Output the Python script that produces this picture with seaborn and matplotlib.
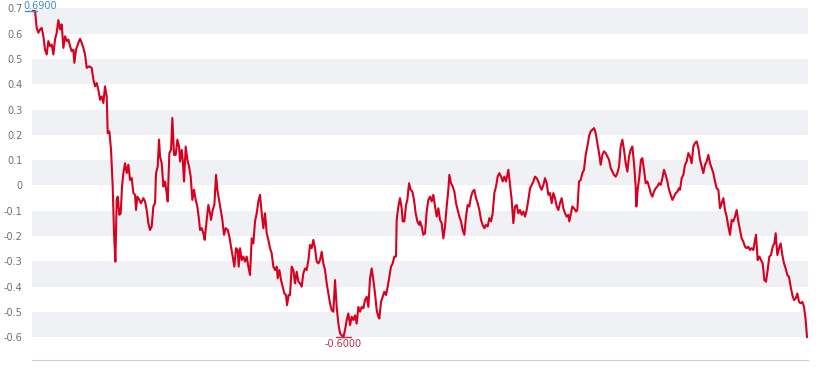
import numpy as np
import matplotlib
matplotlib.use("Agg")
import matplotlib.pyplot as plt
import seaborn as sns

# day index and cumulative value
days = [
    0, 9, 14, 19, 24, 29, 34, 39, 44, 49, 54, 59, 64, 69, 74, 79, 84, 89, 94, 99,
    104, 109, 114, 119, 124, 127, 132, 139, 144, 149, 154, 159, 164, 172, 179, 184, 189, 194, 199, 204,
    209, 214, 219, 224, 227, 232, 237, 242, 246, 250, 254, 257, 262, 266, 270, 274, 279, 284, 289, 294,
    299, 304, 309, 312, 316, 322, 327, 334, 339, 344, 349, 354, 359, 364, 369, 372, 377, 381,
    384, 389, 394, 399, 404, 407, 412, 417, 421, 426, 431, 436, 441, 444, 449, 452, 456, 461, 466, 471,
    476, 481, 486, 491, 496, 501, 504, 509, 514, 518, 524, 529, 534, 537, 542, 547, 552, 556, 561, 566,
    571, 576, 581, 587, 592, 597, 602, 607, 612, 617, 620, 624, 629, 634, 639, 644, 649, 654, 659, 664,
    669, 674, 679, 684, 689, 694, 699, 704, 709, 714, 719, 724, 729, 734, 737, 742, 747, 752, 757, 762,
    765, 770,
    774, 779, 784, 789, 794, 799, 804, 809, 814, 819, 824, 829, 834, 839, 844, 849, 854, 859, 864, 869,
    874, 879, 884, 889, 894, 899, 904, 909, 914, 919, 924, 929, 934, 939, 944, 949, 954, 959, 964, 969,
    974, 979, 984, 989, 994, 999, 1004, 1009, 1014, 1019, 1024, 1029, 1034, 1039, 1042, 1047, 1052, 1057, 1062, 1067,
    1072, 1077, 1082, 1087, 1092, 1094, 1099, 1104, 1109, 1112, 1117, 1122, 1126, 1131, 1136, 1141, 1146, 1151, 1156, 1162,
    1164, 1169, 1174, 1179, 1184, 1189, 1194, 1199, 1204, 1209, 1214, 1219, 1224, 1229, 1234, 1239, 1244, 1249, 1252, 1257,
    1262, 1267, 1272, 1277, 1282, 1287, 1292, 1297, 1302, 1307, 1312, 1317, 1322, 1327, 1332, 1337, 1342, 1347, 1352, 1357,
    1362, 1367, 1372, 1377, 1382, 1387, 1392, 1397, 1402, 1407, 1412, 1417, 1422, 1429, 1434, 1439, 1444, 1449, 1454, 1459,
    1464, 1469, 1474, 1479, 1484, 1489, 1494, 1499, 1504, 1509, 1514, 1519, 1524, 1529, 1534, 1539, 1544, 1549,
    1554, 1559, 1564, 1569, 1574, 1579, 1584, 1589, 1594, 1599, 1604, 1609, 1612, 1617, 1621, 1626, 1632, 1636, 1641, 1646,
    1651, 1656, 1661, 1666, 1671, 1676, 1681, 1686, 1691, 1696, 1701, 1706, 1711, 1716, 1721, 1726, 1731, 1736, 1741, 1746,
    1751, 1756, 1761, 1766, 1771, 1776, 1781, 1786, 1791, 1796, 1801, 1806, 1811, 1813, 1817, 1822, 1827, 1831, 1836, 1841,
    1846, 1851, 1856, 1861, 1866, 1871, 1876, 1881, 1886, 1891, 1896, 1901, 1906, 1911, 1916, 1921, 1926, 1931, 1936, 1941,
    1944, 1949, 1954, 1959, 1964, 1969, 1974, 1979, 1984, 1989, 1994, 1999, 2004, 2009, 2014, 2019, 2024, 2029, 2034, 2039,
    2044, 2049, 2054, 2059, 2064, 2069, 2074, 2079, 2084, 2089, 2094, 2099, 2104, 2109, 2114, 2119, 2124, 2129, 2134, 2139,
    2144, 2149, 2154, 2159, 2164, 2169, 2172, 2177, 2182, 2187, 2192, 2197, 2202, 2207, 2212, 2217, 2222, 2227, 2231, 2236,
    2241, 2246, 2251, 2256, 2261, 2266, 2271, 2276, 2281, 2286, 2291, 2296, 2301, 2306, 2311, 2316, 2321, 2325,
]

values = [
    0.690, 0.690, 0.623, 0.604, 0.617, 0.623, 0.590, 0.537, 0.518, 0.571, 0.551, 0.557, 0.518, 0.577, 0.604, 0.654, 0.617, 0.637, 0.544, 0.590,
    0.571, 0.577, 0.551, 0.531, 0.537, 0.485, 0.537, 0.564, 0.580, 0.564, 0.544, 0.518, 0.465, 0.471, 0.465, 0.419, 0.392, 0.405, 0.379, 0.339,
    0.352, 0.326, 0.392, 0.352, 0.207, 0.214, 0.141, -0.004, -0.189, -0.301, -0.057, -0.044, -0.116, -0.110, -0.004, 0.049, 0.088, 0.049, 0.082, 0.022,
    0.029, -0.030, -0.037, -0.097, -0.044, -0.057, -0.070, -0.050, -0.063, -0.097, -0.149, -0.176, -0.162, -0.083, -0.070, 0.049, 0.075, 0.181,
    0.115, 0.088, -0.004, 0.016, -0.030, -0.063, 0.128, 0.141, 0.267, 0.121, 0.121, 0.181, 0.154, 0.095, 0.141, 0.102, 0.016, 0.154, 0.102, 0.075,
    0.035, -0.057, -0.017, -0.057, -0.083, -0.136, -0.176, -0.169, -0.189, -0.215, -0.136, -0.077, -0.110, -0.136, -0.097, -0.077, 0.042, -0.017, -0.057, -0.097,
    -0.136, -0.195, -0.169, -0.176, -0.202, -0.242, -0.281, -0.321, -0.248, -0.255, -0.321, -0.248, -0.295, -0.281, -0.301, -0.281, -0.321, -0.354, -0.209, -0.229,
    -0.142, -0.110, -0.063, -0.037, -0.110, -0.169, -0.110, -0.189, -0.215, -0.248, -0.268, -0.321, -0.334, -0.321, -0.367, -0.334, -0.374, -0.400, -0.427, -0.433,
    -0.473, -0.433,
    -0.433, -0.321, -0.334, -0.387, -0.341, -0.380, -0.387, -0.400, -0.347, -0.328, -0.334, -0.295, -0.235, -0.248, -0.215, -0.248, -0.301, -0.308, -0.295, -0.262,
    -0.308, -0.334, -0.387, -0.427, -0.466, -0.493, -0.499, -0.374, -0.480, -0.546, -0.585, -0.592, -0.600, -0.572, -0.532, -0.506, -0.552, -0.519, -0.532, -0.513,
    -0.546, -0.480, -0.499, -0.480, -0.486, -0.453, -0.440, -0.480, -0.367, -0.328, -0.374, -0.427, -0.493, -0.519, -0.526, -0.460, -0.440, -0.420, -0.433, -0.400,
    -0.361, -0.321, -0.308, -0.281, -0.281, -0.136, -0.083, -0.050, -0.090, -0.142, -0.142, -0.077, -0.057, 0.009, -0.017, -0.024, -0.057, -0.110, -0.142, -0.156,
    -0.142, -0.162, -0.195, -0.189, -0.103, -0.057, -0.044, -0.063, -0.037, -0.083, -0.123, -0.090, -0.136, -0.149, -0.209, -0.162, -0.083, -0.017, 0.042, 0.009,
    -0.004, -0.024, -0.070, -0.097, -0.123, -0.142, -0.176, -0.195, -0.123, -0.077, -0.083, -0.044, -0.024, -0.017, -0.050, -0.070, -0.097, -0.136, -0.156, -0.169,
    -0.156, -0.162, -0.129, -0.142, -0.110, -0.030, -0.004, 0.035, 0.049, 0.035, 0.016, 0.035, 0.016, 0.062, 0.002, -0.057, -0.149, -0.083, -0.077, -0.110,
    -0.097, -0.116, -0.103, -0.123, -0.097, -0.057, -0.011, 0.002, 0.016, 0.035, 0.029, 0.016, -0.004, -0.017, 0.002, 0.029, 0.009, -0.037,
    -0.030, -0.070, -0.030, -0.050, -0.083, -0.097, -0.070, -0.050, -0.090, -0.110, -0.123, -0.116, -0.142, -0.110, -0.083, -0.090, -0.103, -0.097, 0.016, 0.022,
    0.049, 0.062, 0.121, 0.154, 0.194, 0.214, 0.220, 0.227, 0.207, 0.168, 0.128, 0.082, 0.121, 0.135, 0.128, 0.115, 0.102, 0.069, 0.055, 0.042,
    0.035, 0.049, 0.075, 0.154, 0.181, 0.141, 0.088, 0.055, 0.115, 0.141, 0.154, 0.088, -0.004, -0.083, -0.017, 0.035, 0.102, 0.108, 0.062, 0.009,
    0.016, -0.004, -0.030, -0.044, -0.024, -0.011, -0.004, 0.009, 0.002, 0.029, 0.062, 0.042, 0.016, -0.017, -0.037, -0.057, -0.044, -0.030, -0.024, -0.011,
    -0.017, 0.029, 0.042, 0.082, 0.095, 0.128, 0.115, 0.088, 0.154, 0.168, 0.174, 0.148, 0.102, 0.075, 0.049, 0.082, 0.095, 0.121, 0.088, 0.069,
    0.049, 0.016, -0.011, -0.017, -0.090, -0.070, -0.050, -0.097, -0.123, -0.162, -0.195, -0.136, -0.142, -0.123, -0.097, -0.142, -0.176, -0.209, -0.222, -0.242,
    -0.248, -0.242, -0.255, -0.248, -0.255, -0.215, -0.195, -0.295, -0.281, -0.295, -0.308, -0.374, -0.380, -0.334, -0.281, -0.275, -0.242, -0.229, -0.189, -0.275,
    -0.248, -0.229, -0.275, -0.308, -0.328, -0.354, -0.361, -0.400, -0.433, -0.453, -0.447, -0.427, -0.460, -0.466, -0.460, -0.480, -0.532, -0.600,
]

y_ticks = [0.7, 0.6, 0.5, 0.4, 0.3, 0.2, 0.1, 0.0, -0.1, -0.2, -0.3, -0.4, -0.5, -0.6]
y_labels = ["0.7", "0.6", "0.5", "0.4", "0.3", "0.2", "0.1", "0",
            "-0.1", "-0.2", "-0.3", "-0.4", "-0.5", "-0.6"]

sns.set_style("white")
plt.rcParams["font.family"] = ["DejaVu Sans"]

fig = plt.figure(figsize=(8.3, 3.74), dpi=100)
ax = fig.add_axes([0.0386, 0.0374, 0.9349, 0.9400])

# alternating grey bands
for lo in [0.6, 0.4, 0.2, 0.0, -0.2, -0.4, -0.6]:
    ax.axhspan(lo, lo + 0.1, color="#eff1f4", lw=0, zorder=0)

sns.lineplot(x=days, y=values, ax=ax, color="#d7001f", linewidth=1.5,
             estimator=None, sort=False, zorder=3)

ax.set_xlim(0, 2328)
ax.set_ylim(-0.69, 0.7)
ax.set_yticks(y_ticks)
ax.set_yticklabels(y_labels)
ax.set_xticks([])
ax.tick_params(axis="y", length=0, pad=7, labelsize=7, labelcolor="#6e7079")
ax.set_xlabel("")
ax.set_ylabel("")
for side in ["top", "right", "left"]:
    ax.spines[side].set_visible(False)
ax.spines["bottom"].set_color("#cccccc")
ax.spines["bottom"].set_linewidth(0.8)

# max / min markers
i_max = int(np.argmax(values))
i_min = int(np.argmin(values))
ax.plot([days[i_max] - 20, days[i_max] + 16], [values[i_max]] * 2,
        color="#3a8fd0", lw=1, clip_on=False, zorder=4)
ax.annotate(f"{values[i_max]:.4f}", xy=(days[i_max], values[i_max]),
            xytext=(6, 0), textcoords="offset points", ha="center", va="bottom",
            fontsize=7, color="#3a8fd0", annotation_clip=False)
ax.plot([days[i_min] - 22, days[i_min] + 22], [values[i_min]] * 2,
        color="#b8304a", lw=1, clip_on=False, zorder=4)
ax.annotate(f"{values[i_min]:.4f}", xy=(days[i_min], values[i_min]),
            xytext=(0, -1.5), textcoords="offset points", ha="center", va="top",
            fontsize=7, color="#b8304a", annotation_clip=False)

fig.savefig("out.png", dpi=100)
